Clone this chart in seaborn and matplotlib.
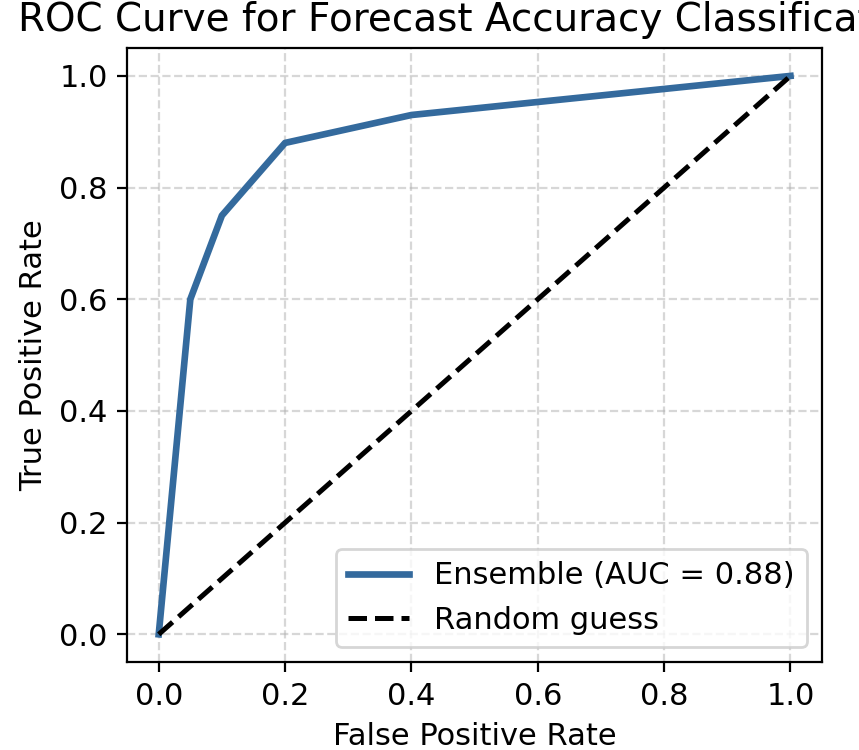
import numpy as np
import pandas as pd
import seaborn as sns
import matplotlib
matplotlib.use("Agg")
import matplotlib.pyplot as plt

# ROC points
fpr = [0.0, 0.05, 0.1, 0.2, 0.4, 1.0]
tpr = [0.0, 0.60, 0.75, 0.88, 0.93, 1.0]
diag = [0.0, 1.0]
auc_label = "Ensemble (AUC = 0.88)"

df = pd.DataFrame({"fpr": fpr, "tpr": tpr})
df_diag = pd.DataFrame({"x": diag, "y": diag})

fig, ax = plt.subplots(figsize=(4.295, 3.75), dpi=200)
sns.lineplot(data=df, x="fpr", y="tpr", ax=ax, color="#346a9d", linewidth=2.4,
             label=auc_label, sort=False)
sns.lineplot(data=df_diag, x="x", y="y", ax=ax, color="black", linestyle="--",
             linewidth=1.8, label="Random guess")
ax.grid(True, linestyle="--", color="#b0b0b0", alpha=0.5, linewidth=0.8)
ax.set_xlabel("False Positive Rate", fontsize=11)
ax.set_ylabel("True Positive Rate", fontsize=11)
ax.set_title("ROC Curve for Forecast Accuracy Classification", fontsize=14)
ax.tick_params(labelsize=11)
ax.legend(loc="lower right", fontsize=11)
fig.subplots_adjust(left=0.148, right=0.957, top=0.936, bottom=0.117)
fig.savefig("out.png", dpi=200)
